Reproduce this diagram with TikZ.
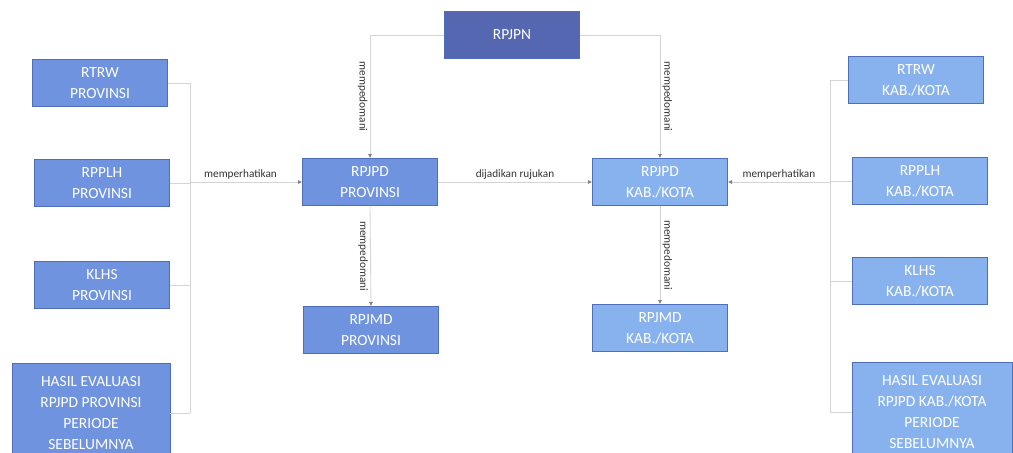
\documentclass[tikz,border=0pt]{standalone}
\usepackage{fontspec}
\setmainfont{Carlito}
\usepackage{xcolor}
\usetikzlibrary{positioning}
\usetikzlibrary{arrows.meta}

\definecolor{darkbox}{HTML}{5567B0}
\definecolor{midbox}{HTML}{6F93DF}
\definecolor{lightbox}{HTML}{88B2EE}
\definecolor{boxline}{HTML}{4F6DB8}
\definecolor{linkgray}{HTML}{D4D4D4}

\tikzset{
    box/.style={draw=boxline, fill=midbox, text=white, align=center,
        minimum width=135*0.025cm, minimum height=47*0.025cm, inner sep=1pt,
        font=\fontsize{11}{15}\selectfont},
    link/.style={draw=linkgray, line width=0.6pt},
    tip/.style={link, -{Latex[length=3pt,width=3pt,color=gray]}},
    lbl/.style={font=\fontsize{8}{9}\selectfont, text=black!80, inner sep=1.5pt}
}

\begin{document}
\begin{tikzpicture}[x=0.025cm, y=-0.025cm]
    \useasboundingbox (0,0) rectangle (1013,453);

    % pusat
    \node[box, fill=darkbox] (rpjpn) at (512,35) {RPJPN};
    \node[box] (rpjpdprov) at (370,182) {RPJPD\\PROVINSI};
    \node[box] (rpjmdprov) at (371,330) {RPJMD\\PROVINSI};
    \node[box, fill=lightbox] (rpjpdkab) at (660,182) {RPJPD\\KAB./KOTA};
    \node[box, fill=lightbox] (rpjmdkab) at (660,328) {RPJMD\\KAB./KOTA};

    % kiri
    \node[box] (rtrwprov) at (100,83) {RTRW\\PROVINSI};
    \node[box] (rpplhprov) at (102,183) {RPPLH\\PROVINSI};
    \node[box] (klhsprov) at (102,285) {KLHS\\PROVINSI};
    \node[box, minimum width=158*0.025cm, minimum height=100*0.025cm] (hasilprov) at (91,413)
        {HASIL EVALUASI\\RPJPD PROVINSI\\PERIODE\\SEBELUMNYA};

    % kanan
    \node[box, fill=lightbox] (rtrwkab) at (916,80) {RTRW\\KAB./KOTA};
    \node[box, fill=lightbox] (rpplhkab) at (920,181) {RPPLH\\KAB./KOTA};
    \node[box, fill=lightbox] (klhskab) at (920,281) {KLHS\\KAB./KOTA};
    \node[box, fill=lightbox, minimum width=160*0.025cm, minimum height=100*0.025cm] (hasilkab) at (932,412)
        {HASIL EVALUASI\\RPJPD KAB./KOTA\\PERIODE\\SEBELUMNYA};

    % garis pengumpul
    \coordinate (lbus) at (190,182);
    \coordinate (rbus) at (830,182);
    \foreach \n in {rtrwprov,rpplhprov,klhsprov,hasilprov}{
        \draw[link] (\n.east) -- (\n.east -| lbus);
    }
    \foreach \n in {rtrwkab,rpplhkab,klhskab,hasilkab}{
        \draw[link] (\n.west) -- (\n.west -| rbus);
    }
    \draw[link] (rtrwprov.east -| lbus) -- (hasilprov.east -| lbus);
    \draw[link] (rtrwkab.west -| rbus) -- (hasilkab.west -| rbus);

    % panah
    \draw[tip] (lbus) -- node[lbl, above, pos=0.45] {memperhatikan} (rpjpdprov.west);
    \draw[tip] (rbus) -- node[lbl, above, pos=0.5] {memperhatikan} (rpjpdkab.east);
    \draw[tip] (rpjpdprov.east) -- node[lbl, above] {dijadikan rujukan} (rpjpdkab.west);
    \draw[tip] (rpjpn.west) -| node[lbl, rotate=-90, pos=0.75, below] {mempedomani} (rpjpdprov.north);
    \draw[tip] (rpjpn.east) -| node[lbl, rotate=-90, pos=0.75, above] {mempedomani} (rpjpdkab.north);
    \draw[tip] (rpjpdprov.south) -- node[lbl, rotate=-90, below] {mempedomani} (rpjmdprov.north);
    \draw[tip] (rpjpdkab.south) -- node[lbl, rotate=-90, above] {mempedomani} (rpjmdkab.north);
\end{tikzpicture}
\end{document}
